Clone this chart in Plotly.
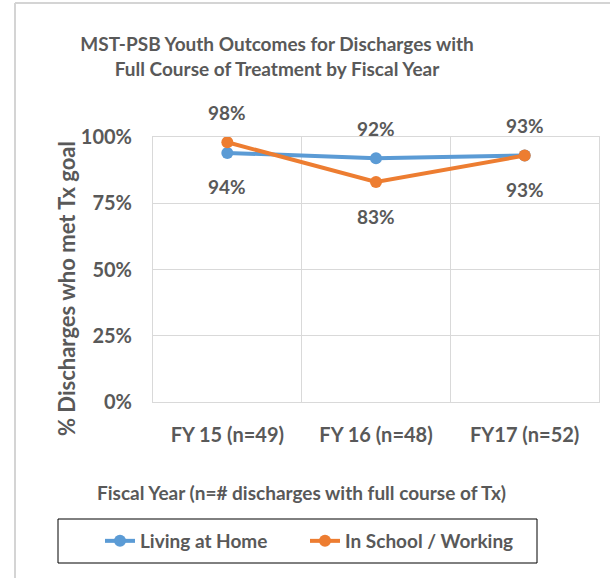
import plotly.graph_objects as go

categories = ["FY 15 (n=49)", "FY 16 (n=48)", "FY17 (n=52)"]
living_at_home = [94, 92, 93]
in_school_working = [98, 83, 93]
y_ticks = [0, 25, 50, 75, 100]
y_tick_labels = ["0%", "25%", "50%", "75%", "100%"]
# label placement above(+)/below(-) the point
home_label_side = [-1, 1, 1]
school_label_side = [1, -1, -1]

W, H = 610, 578
L, R, T, B = 153, 11, 137, 176
PW, PH = W - L - R, H - T - B

def xp(px):
    return (px - L) / PW

def yp(py):
    return (H - B - py) / PH

GRAY = "#595959"
FONT = "Lato"
BLUE = "#5B9BD5"
ORANGE = "#ED7D31"

fig = go.Figure()
fig.add_trace(go.Scatter(
    x=categories, y=living_at_home, name="Living at Home", legend="legend",
    mode="lines+markers", line=dict(color=BLUE, width=4),
    marker=dict(color=BLUE, size=12)))
fig.add_trace(go.Scatter(
    x=categories, y=in_school_working, name="In School / Working", legend="legend2",
    mode="lines+markers", line=dict(color=ORANGE, width=4),
    marker=dict(color=ORANGE, size=12)))

annotations = []
for series, sides in ((living_at_home, home_label_side), (in_school_working, school_label_side)):
    for c, v, s in zip(categories, series, sides):
        annotations.append(dict(
            x=c, y=v, xref="x", yref="y", text=f"{v}%", showarrow=False,
            yshift=30 if s > 0 else -34, xanchor="center", yanchor="middle",
            font=dict(family=FONT, size=19, color=GRAY, weight="bold")))

# y-axis title
annotations.append(dict(
    x=xp(66), y=yp(289), xref="paper", yref="paper", showarrow=False,
    text="% Discharges who met Tx goal", textangle=-90,
    xanchor="center", yanchor="middle",
    font=dict(family=FONT, size=22, color=GRAY, weight="bold")))
# x-axis title
annotations.append(dict(
    x=xp(301), y=yp(492), xref="paper", yref="paper", showarrow=False,
    text="Fiscal Year (n=# discharges with full course of Tx)",
    xanchor="center", yanchor="middle",
    font=dict(family=FONT, size=19, color=GRAY, weight="bold")))

shapes = [
    # legend box
    dict(type="rect", xref="paper", yref="paper",
         x0=xp(58), x1=xp(537), y0=yp(519), y1=yp(563),
         line=dict(color="#000000", width=1), fillcolor="rgba(0,0,0,0)"),
    # chart area border (left and top)
    dict(type="line", xref="paper", yref="paper",
         x0=xp(15), x1=xp(15), y0=yp(3), y1=yp(578),
         line=dict(color="#D4D4D4", width=2)),
    dict(type="line", xref="paper", yref="paper",
         x0=xp(15), x1=xp(612), y0=yp(3), y1=yp(3),
         line=dict(color="#D4D4D4", width=2)),
]

legend_font = dict(family=FONT, size=19, color=GRAY, weight="bold")

fig.update_layout(
    width=W, height=H,
    margin=dict(l=L, r=R, t=T, b=B, pad=0),
    paper_bgcolor="white", plot_bgcolor="white",
    title=dict(
        text="MST-PSB Youth Outcomes for Discharges with<br>Full Course of Treatment by Fiscal Year",
        x=277 / W, xanchor="center", y=1 - 51 / H, yanchor="middle",
        font=dict(family=FONT, size=19, color=GRAY, weight="bold")),
    xaxis=dict(
        type="category", tickson="boundaries", showgrid=True,
        gridcolor="#D9D9D9", gridwidth=1,
        showline=True, linecolor="#D9D9D9", linewidth=1, mirror=True,
        ticks="", ticklabelstandoff=15,
        tickfont=dict(family=FONT, size=20, color=GRAY, weight="bold"),
        range=[-0.5, 2.5], zeroline=False),
    yaxis=dict(
        range=[0, 100], tickvals=y_ticks, ticktext=y_tick_labels,
        showgrid=True, gridcolor="#D9D9D9", gridwidth=1,
        showline=True, linecolor="#D9D9D9", linewidth=1, mirror=True,
        ticks="", ticklabelstandoff=16, zeroline=False,
        tickfont=dict(family=FONT, size=20, color=GRAY, weight="bold")),
    showlegend=True,
    legend=dict(
        orientation="h", x=xp(100), xanchor="left", y=yp(541), yanchor="middle",
        font=legend_font, bgcolor="rgba(0,0,0,0)", borderwidth=0),
    legend2=dict(
        orientation="h", x=xp(305), xanchor="left", y=yp(541), yanchor="middle",
        font=legend_font, bgcolor="rgba(0,0,0,0)", borderwidth=0),
    annotations=annotations,
    shapes=shapes,
)

fig.write_html("out.html", config={"displayModeBar": False},
               post_script="document.body.style.margin='0';document.body.style.padding='0';")
